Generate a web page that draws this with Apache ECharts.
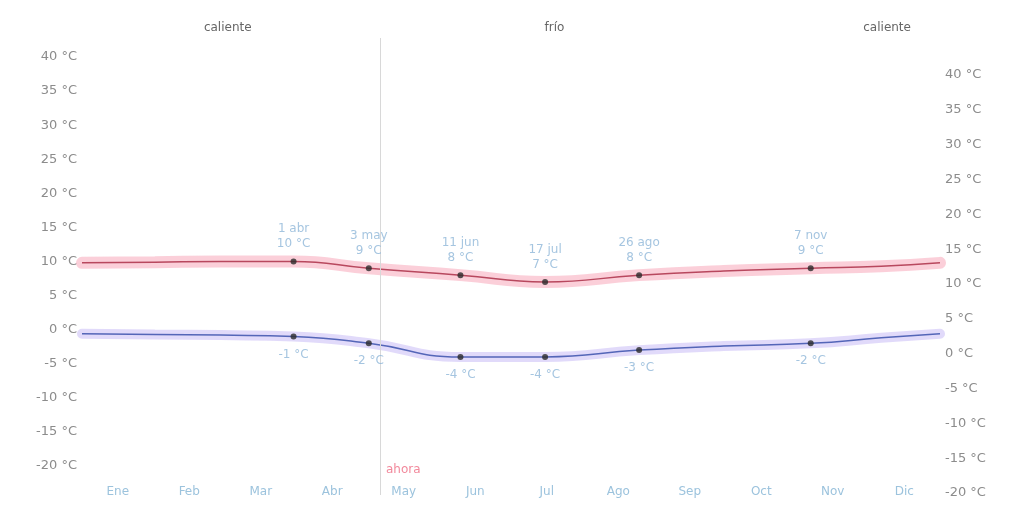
<!DOCTYPE html>
<html>
<head>
<meta charset="utf-8">
<script src="https://cdn.jsdelivr.net/npm/echarts@6/dist/echarts.min.js"></script>
<style>html,body{margin:0;padding:0;background:#fff;}#c{width:1015px;height:511px;}</style>
</head>
<body>
<div id="c"></div>
<script>
// ---- data ----
const months = ['Ene','Feb','Mar','Abr','May','Jun','Jul','Ago','Sep','Oct','Nov','Dic'];
const yTicks = [-20,-15,-10,-5,0,5,10,15,20,25,30,35,40];
const curveDays = [0, 31, 59, 90, 122, 161, 197, 237, 273, 310, 340, 365];
const highCurve = [9.8, 9.9, 10, 10, 9, 8, 7, 8, 8.6, 9, 9.3, 9.8];
const lowCurve  = [-0.6, -0.7, -0.8, -1, -2, -4, -4, -3, -2.4, -2, -1.2, -0.6];
const keyDates = ['1 abr','3 may','11 jun','17 jul','26 ago','7 nov'];
const keyDays  = [90, 122, 161, 197, 237, 310];
const keyHigh  = [10, 9, 8, 7, 8, 9];
const keyLow   = [-1, -2, -4, -4, -3, -2];
const seasonNames = ['caliente','frío','caliente'];
const seasonStart = [0, 150, 320];
const seasonEnd   = [124, 252, 365];
const nowDay = 127;
const nowLabel = 'ahora';

const FONT = 'DejaVu Sans';
const pair = (xs, ys) => xs.map((x, i) => [x, ys[i]]);

const chart = echarts.init(document.getElementById('c'), null, {renderer: 'canvas'});
chart.setOption({
  animation: false,
  backgroundColor: '#ffffff',
  textStyle: {fontFamily: FONT},
  grid: [
    {left: 82, right: 75, top: 57, bottom: 45},
    {left: 82, right: 75, top: 75, bottom: 18},
    {left: 82, right: 75, top: 38, bottom: 16}
  ],
  xAxis: [
    {gridIndex: 0, type: 'value', min: 0, max: 365, show: false},
    {gridIndex: 0, type: 'category', data: months, boundaryGap: true, position: 'bottom',
     axisLine: {show: false}, axisTick: {show: false}, splitLine: {show: false},
     axisLabel: {color: '#9cc3dd', fontSize: 12, margin: 20, fontFamily: FONT}},
    {gridIndex: 2, type: 'value', min: 0, max: 365, show: false},
    {gridIndex: 1, type: 'value', min: 0, max: 365, show: false}
  ],
  yAxis: [
    {gridIndex: 0, type: 'value', min: -20, max: 40, interval: 5, position: 'left',
     axisLine: {show: false}, axisTick: {show: false}, splitLine: {show: false},
     axisLabel: {color: '#8c8c8c', fontSize: 13, margin: 5, fontFamily: FONT,
                 formatter: v => yTicks.includes(v) ? v + ' °C' : ''}},
    {gridIndex: 1, type: 'value', min: -20, max: 40, interval: 5, position: 'right',
     axisLine: {show: false}, axisTick: {show: false}, splitLine: {show: false},
     axisLabel: {color: '#8c8c8c', fontSize: 13, margin: 5, fontFamily: FONT,
                 formatter: v => yTicks.includes(v) ? v + ' °C' : ''}},
    {gridIndex: 2, type: 'value', min: 0, max: 1, show: false}
  ],
  series: [
    // seasons + now line
    {type: 'line', xAxisIndex: 2, yAxisIndex: 2, data: [], silent: true,
     markArea: {silent: true, itemStyle: {color: 'rgba(0,0,0,0)'},
       label: {position: 'top', distance: 4, color: '#666', fontSize: 12, fontFamily: FONT},
       data: seasonNames.map((n, i) => [{name: n, xAxis: seasonStart[i]}, {xAxis: seasonEnd[i]}])},
     markLine: {silent: true, symbol: 'none', label: {show: false},
       lineStyle: {color: '#d8d8d8', width: 1, type: 'solid'},
       data: [{xAxis: nowDay}]}},
    // bands
    {type: 'line', xAxisIndex: 0, yAxisIndex: 0, smooth: true, symbol: 'none',
     data: pair(curveDays, highCurve),
     lineStyle: {color: 'rgba(245,140,165,0.42)', width: 12, cap: 'round'}},
    {type: 'line', xAxisIndex: 0, yAxisIndex: 0, smooth: true, symbol: 'none',
     data: pair(curveDays, lowCurve),
     lineStyle: {color: 'rgba(170,150,240,0.35)', width: 10, cap: 'round'}},
    // lines
    {type: 'line', xAxisIndex: 0, yAxisIndex: 0, smooth: true, symbol: 'none',
     data: pair(curveDays, highCurve),
     lineStyle: {color: '#b8485e', width: 1.5}},
    {type: 'line', xAxisIndex: 0, yAxisIndex: 0, smooth: true, symbol: 'none',
     data: pair(curveDays, lowCurve),
     lineStyle: {color: '#5466b8', width: 1.5}},
    // key points
    {type: 'scatter', xAxisIndex: 0, yAxisIndex: 0, symbolSize: 6, z: 5,
     itemStyle: {color: '#2a2a2a'},
     data: keyDays.map((d, i) => ({value: [d, keyHigh[i]], name: keyDates[i]})),
     label: {show: true, position: 'top', distance: 7, color: '#8fb6d8', fontSize: 12,
             lineHeight: 15, fontFamily: FONT, align: 'center',
             formatter: p => p.name + '\n' + p.value[1] + ' °C'}},
    {type: 'scatter', xAxisIndex: 0, yAxisIndex: 0, symbolSize: 6, z: 5,
     itemStyle: {color: '#2a2a2a'},
     data: keyDays.map((d, i) => ({value: [d, keyLow[i]], name: keyDates[i]})),
     label: {show: true, position: 'bottom', distance: 9, color: '#8fb6d8', fontSize: 12,
             fontFamily: FONT, formatter: p => p.value[1] + ' °C'}}
  ],
  graphic: [
    {type: 'text', left: 386, top: 464,
     style: {text: nowLabel, fill: '#f2899c', font: '12px ' + FONT}}
  ]
});
</script>
</body>
</html>
